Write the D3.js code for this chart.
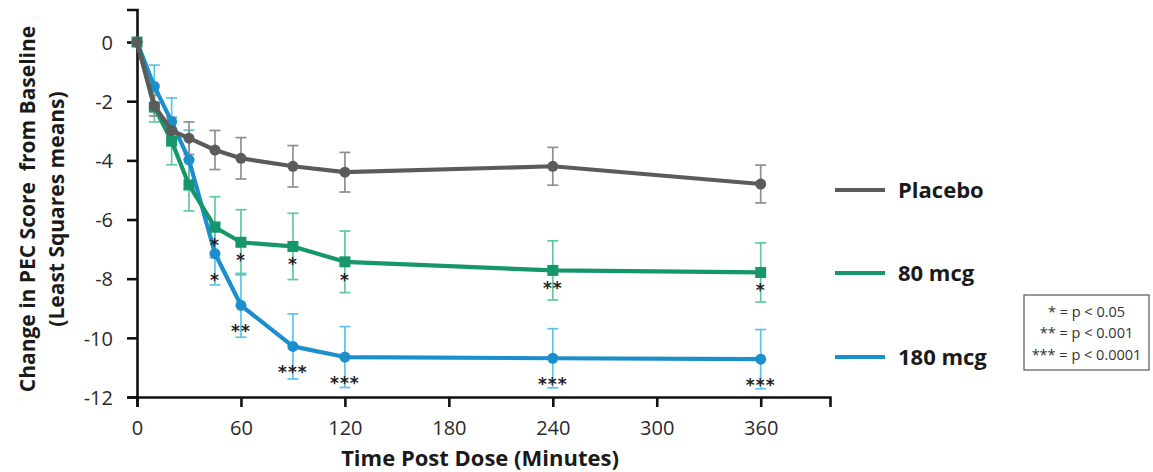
<!DOCTYPE html>
<html lang="en">
<head>
<meta charset="UTF-8">
<title>PEC score change</title>
<script src="https://cdn.jsdelivr.net/npm/d3@7"></script>
<style>
  body { margin: 0; background: #fff; }
  svg { display: block; font-family: "Open Sans", sans-serif; }
</style>
</head>
<body>
<svg id="chart" width="1153" height="472"></svg>
<script>
// minutes after dose
const times = [0, 10, 20, 30, 45, 60, 90, 120, 240, 360]

const placebo = [0, -2.15, -3.0, -3.25, -3.65, -3.93, -4.2, -4.4, -4.2, -4.8]
const placeboErr = [0, 0.35, 0.45, 0.55, 0.66, 0.7, 0.7, 0.67, 0.64, 0.64]

const mcg80 = [0, -2.2, -3.35, -4.83, -6.26, -6.77, -6.91, -7.43, -7.72, -7.79]
const mcg80Err = [0, 0.5, 0.8, 0.88, 1.03, 1.1, 1.12, 1.04, 1.0, 1.0]
const mcg80Sig = ['', '', '', '', '*', '*', '*', '*', '**', '*']

const mcg180 = [0, -1.5, -2.69, -3.98, -7.15, -8.9, -10.29, -10.65, -10.69, -10.72]
const mcg180Err = [0, 0.72, 0.8, 1.0, 1.06, 1.08, 1.1, 1.03, 1.0, 1.0]
const mcg180Sig = ['', '', '', '', '*', '**', '***', '***', '***', '***']

const xTicks = [0, 60, 120, 180, 240, 300, 360]
const yTicks = [0, -2, -4, -6, -8, -10, -12]
const sigNotes = ['* = p < 0.05', '** = p < 0.001', '*** = p < 0.0001']

const series = [
  { name: '180 mcg', values: mcg180, err: mcg180Err, sig: mcg180Sig, color: '#1a8fcc', errColor: '#5ec2ea', shape: 'circle', sigGap: 22 },
  { name: '80 mcg', values: mcg80, err: mcg80Err, sig: mcg80Sig, color: '#16976b', errColor: '#62c7a2', shape: 'square', sigGap: 14 },
  { name: 'Placebo', values: placebo, err: placeboErr, sig: null, color: '#5b5b5b', errColor: '#8f8f8f', shape: 'circle', sigGap: 0 },
]

const svg = d3.select('#chart')

const x = d3.scaleLinear().domain([0, 400]).range([137, 830])
const y = d3.scaleLinear().domain([-12, 1.1]).range([397, 9.5])

// axes (plain hyphen for negatives, like the source)
const xAxis = svg.append('g')
  .attr('transform', `translate(0,${y(-12)})`)
  .call(d3.axisBottom(x).tickValues(xTicks).tickFormat(d => String(d)).tickSizeOuter(0).tickSize(10))
const yAxis = svg.append('g')
  .attr('transform', `translate(${x(0)},0)`)
  .call(d3.axisLeft(y).tickValues(yTicks).tickFormat(d => String(d)).tickSizeOuter(0).tickSize(10).tickPadding(14))

for (const ax of [xAxis, yAxis]) {
  ax.select('.domain').attr('stroke', '#111').attr('stroke-width', 2.6)
  ax.selectAll('.tick line').attr('stroke', '#111').attr('stroke-width', 2.6)
  ax.selectAll('.tick text')
    .attr('fill', '#2a2a2a')
    .style('font-family', '"Open Sans", sans-serif')
    .style('font-size', '20px')
}
xAxis.selectAll('.tick text').attr('y', 38).attr('dy', 0)
yAxis.selectAll('.tick text').attr('dy', '0.36em')

// axis titles
svg.append('text')
  .attr('x', 480).attr('y', 466)
  .attr('text-anchor', 'middle')
  .style('font-size', '22px').style('font-weight', 700).attr('fill', '#1a1a1a')
  .text('Time Post Dose (Minutes)')

const yTitle = svg.append('text')
  .attr('transform', 'translate(0,209) rotate(-90)')
  .attr('text-anchor', 'middle')
  .style('font-size', '21px').style('font-weight', 700).attr('fill', '#1a1a1a')
yTitle.append('tspan').attr('x', 0).attr('y', 35).text('Change in PEC Score\u00a0 from Baseline')
yTitle.append('tspan').attr('x', 0).attr('y', 64).text('(Least Squares means)')

const line = d3.line()
  .x(d => x(d.t))
  .y(d => y(d.v))

const rows = s => times.map((t, i) => ({ t, v: s.values[i], e: s.err[i], sig: s.sig ? s.sig[i] : '' }))

// error bars
series.forEach(s => {
  const g = svg.append('g').attr('stroke', s.errColor).attr('stroke-width', 1.7).attr('fill', 'none')
  const pts = rows(s).filter(d => d.e > 0)
  g.selectAll('line.v').data(pts).join('line').attr('class', 'v')
    .attr('x1', d => x(d.t)).attr('x2', d => x(d.t))
    .attr('y1', d => y(d.v + d.e)).attr('y2', d => y(d.v - d.e))
  g.selectAll('line.top').data(pts).join('line').attr('class', 'top')
    .attr('x1', d => x(d.t) - 5.5).attr('x2', d => x(d.t) + 5.5)
    .attr('y1', d => y(d.v + d.e)).attr('y2', d => y(d.v + d.e))
  g.selectAll('line.bot').data(pts).join('line').attr('class', 'bot')
    .attr('x1', d => x(d.t) - 5.5).attr('x2', d => x(d.t) + 5.5)
    .attr('y1', d => y(d.v - d.e)).attr('y2', d => y(d.v - d.e))
})

// lines and markers
series.forEach(s => {
  const data = rows(s)
  svg.append('path')
    .datum(data)
    .attr('d', line)
    .attr('fill', 'none')
    .attr('stroke', s.color)
    .attr('stroke-width', 4.2)
    .attr('stroke-linejoin', 'round')

  if (s.shape === 'square') {
    svg.append('g').selectAll('rect').data(data).join('rect')
      .attr('x', d => x(d.t) - 5.5).attr('y', d => y(d.v) - 5.5)
      .attr('width', 11).attr('height', 11)
      .attr('fill', s.color)
  } else {
    svg.append('g').selectAll('circle').data(data).join('circle')
      .attr('cx', d => x(d.t)).attr('cy', d => y(d.v))
      .attr('r', 5.5)
      .attr('fill', s.color)
  }
})

// significance stars
series.filter(s => s.sig).forEach(s => {
  svg.append('g').selectAll('text').data(rows(s).filter(d => d.sig)).join('text')
    .attr('x', d => x(d.t))
    .attr('y', d => y(d.v) + s.sigGap + 10)
    .attr('text-anchor', 'middle')
    .style('font-family', '"DejaVu Sans", sans-serif')
    .style('font-size', '17px')
    .style('font-weight', 700)
    .style('letter-spacing', '1px')
    .attr('fill', '#222')
    .text(d => d.sig)
})

// legend
const legendY = [357, 273, 190]
series.forEach((s, i) => {
  const g = svg.append('g').attr('transform', `translate(835,${legendY[i]})`)
  g.append('line').attr('x1', 0).attr('x2', 50).attr('stroke', s.color).attr('stroke-width', 4.2)
  g.append('text').attr('x', 63).attr('y', 8)
    .style('font-size', '22px').style('font-weight', 700).attr('fill', '#1a1a1a')
    .text(s.name)
})

// p-value note box
const note = svg.append('g').attr('transform', 'translate(1024,295)')
note.append('rect').attr('width', 125).attr('height', 75)
  .attr('fill', '#fff').attr('stroke', '#555').attr('stroke-width', 1.2)
note.selectAll('text').data(sigNotes).join('text')
  .attr('x', 62.5).attr('y', (d, i) => 21.5 + i * 21.5)
  .attr('text-anchor', 'middle')
  .style('font-size', '14.5px').attr('fill', '#333')
  .text(d => d)
</script>
</body>
</html>
